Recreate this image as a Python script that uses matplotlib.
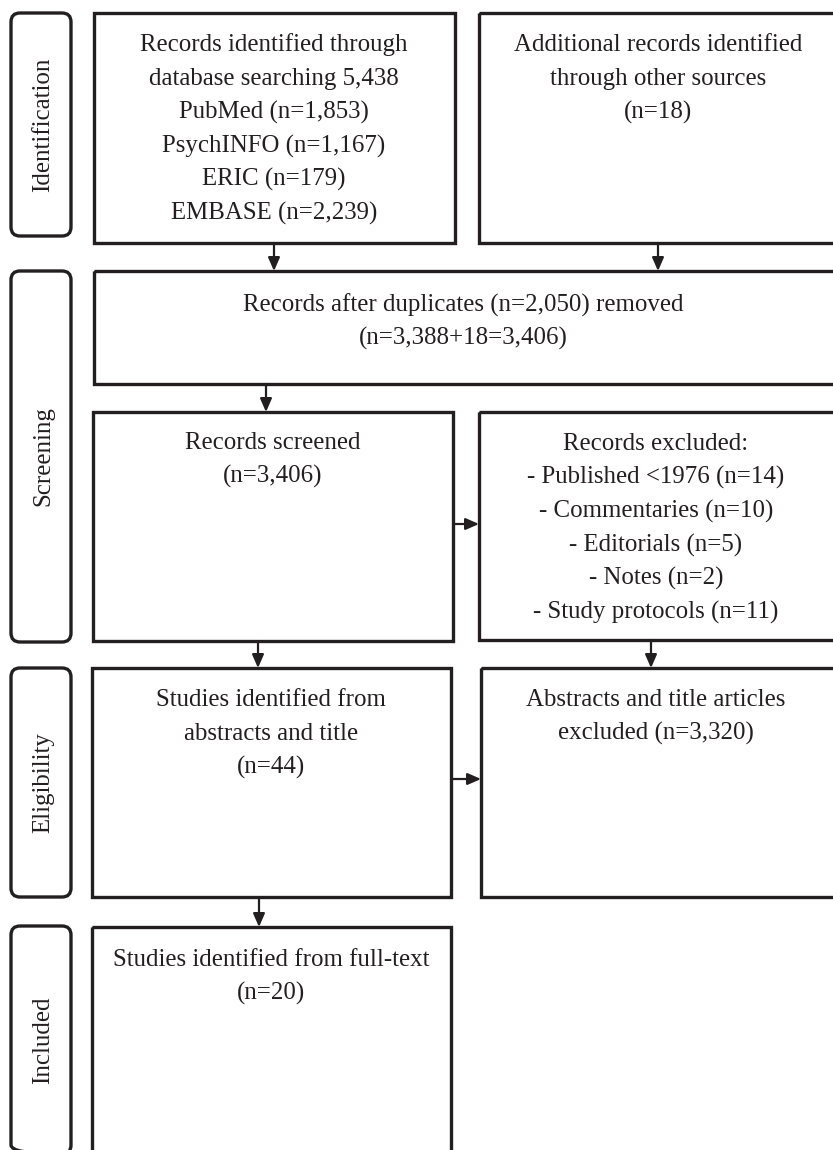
import matplotlib.pyplot as plt
from matplotlib.patches import Rectangle, FancyBboxPatch

# textos do diagrama
etapas = ["Identification", "Screening", "Eligibility", "Included"]

txt_identificados = ["Records identified through", "database searching 5,438",
                     "PubMed (n=1,853)", "PsychINFO (n=1,167)",
                     "ERIC (n=179)", "EMBASE (n=2,239)"]
txt_adicionais = ["Additional records identified", "through other sources", "(n=18)"]
txt_duplicados = ["Records after duplicates (n=2,050) removed", "(n=3,388+18=3,406)"]
txt_triados = ["Records screened", "(n=3,406)"]
txt_excluidos = ["Records excluded:", "- Published <1976 (n=14)", "- Commentaries (n=10)",
                 "- Editorials (n=5)", "- Notes (n=2)", "- Study protocols (n=11)"]
txt_resumos = ["Studies identified from", "abstracts and title", "(n=44)"]
txt_resumos_excl = ["Abstracts and title articles", "excluded (n=3,320)"]
txt_incluidos = ["Studies identified from full-text", "(n=20)"]

cor = "#231f20"
fonte = "Liberation Serif"
lw = 2.4
tam = 17.9

fig = plt.figure(figsize=(8.33, 11.5), dpi=100)
ax = fig.add_axes([0, 0, 1, 1])
ax.set_xlim(0, 833)
ax.set_ylim(1150, 0)
ax.axis("off")


def caixa(x0, y0, x1, y1, linhas, cx, ty):
    ax.add_patch(Rectangle((x0, y0), x1 - x0, y1 - y0, fill=False,
                           ec=cor, lw=lw, clip_on=False))
    for i, t in enumerate(linhas):
        ax.text(cx, ty + i * 33.7, t, ha="center", va="center",
                fontsize=tam, family=fonte, color=cor)


def etapa(y0, y1, nome):
    ax.add_patch(FancyBboxPatch((11, y0 + 8), 60, y1 - y0 - 16,
                                boxstyle="round,pad=0,rounding_size=9",
                                fill=False, ec=cor, lw=lw, clip_on=False))
    ax.text(43, (y0 + y1) / 2, nome, rotation=90, ha="center", va="center",
            fontsize=tam, family=fonte, color=cor)


def seta(x0, y0, x1, y1):
    ax.annotate("", xy=(x1, y1), xytext=(x0, y0),
                arrowprops=dict(arrowstyle="-|>,head_length=0.8,head_width=0.35",
                                color=cor, lw=1.6, shrinkA=0, shrinkB=0))


# etapas laterais
etapa(5, 244, etapas[0])
etapa(263, 650, etapas[1])
etapa(660, 905, etapas[2])
etapa(918, 1162, etapas[3])

# caixas
caixa(94, 13, 455, 243, txt_identificados, 274, 45)
caixa(479, 13, 845, 243, txt_adicionais, 658, 45)
caixa(94, 271, 845, 384, txt_duplicados, 463, 305)
caixa(93, 412, 453, 641, txt_triados, 273, 443)
caixa(479, 412, 845, 640, txt_excluidos, 656, 444)
caixa(92, 668, 451, 897, txt_resumos, 271, 700)
caixa(481, 668, 845, 897, txt_resumos_excl, 656, 700)
caixa(92, 927, 451, 1170, txt_incluidos, 271, 960)

# setas
seta(274, 243, 274, 271)
seta(658, 243, 658, 271)
seta(266, 384, 266, 412)
seta(453, 524, 479, 524)
seta(258, 641, 258, 668)
seta(651, 640, 651, 668)
seta(451, 779, 481, 779)
seta(259, 897, 259, 927)

plt.savefig("out.png", dpi=100, format="png")
